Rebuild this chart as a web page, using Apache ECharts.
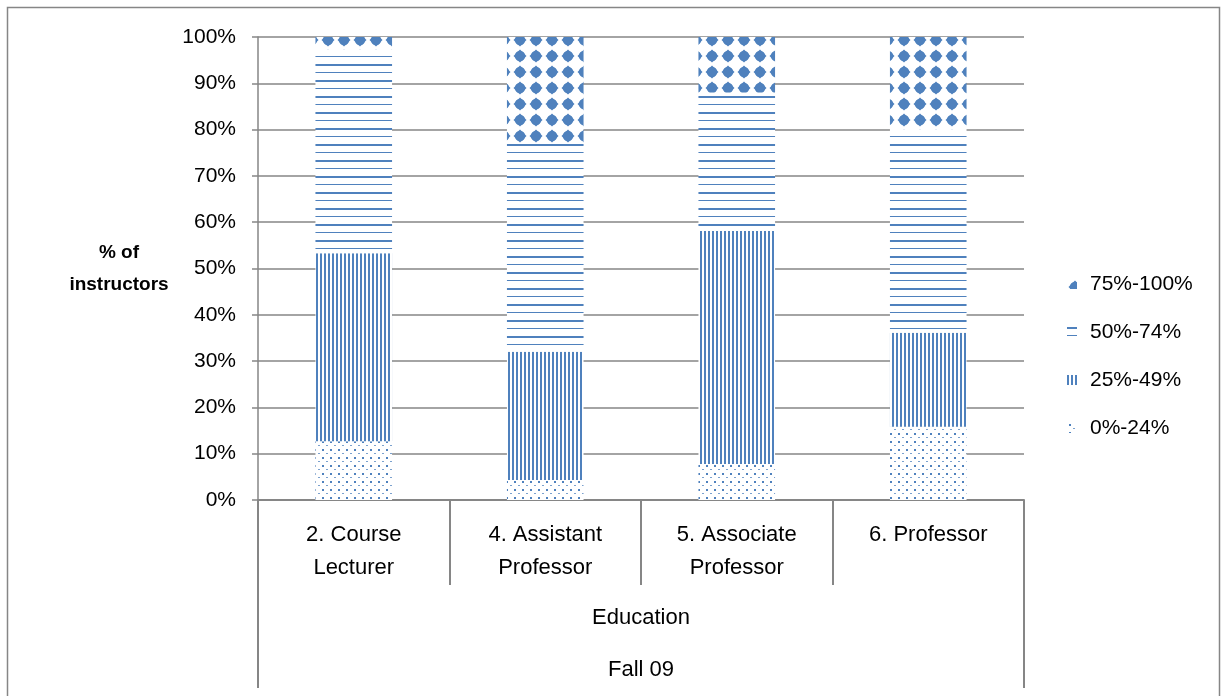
<!DOCTYPE html>
<html>
<head>
<meta charset="utf-8">
<script src="https://cdn.jsdelivr.net/npm/echarts@6/dist/echarts.min.js"></script>
<style>
html,body{margin:0;padding:0;background:#fff;}
#chart{width:1223px;height:696px;}
</style>
</head>
<body>
<div id="chart"></div>
<script>
// ---- Data ----
const categories = ['2. Course\nLecturer', '4. Assistant\nProfessor', '5. Associate\nProfessor', '6. Professor'];
const groupLabel = ['Education'];
const termLabel = ['Fall 09'];
const seriesNames = ['0%-24%', '25%-49%', '50%-74%', '75%-100%'];
const v0_24 = [12.7, 4.3, 7.8, 15.8];
const v25_49 = [40.6, 27.7, 50.3, 20.3];
const v50_74 = [43.9, 45.1, 29.9, 43.8];
const v75_100 = [2.8, 22.9, 12.0, 20.1];
const yTicks = [0, 10, 20, 30, 40, 50, 60, 70, 80, 90, 100];

// ---- Styles ----
const BLUE = '#4F81BD';
const GRAY = '#868686';
const FONT = 'Liberation Sans';

function makePattern(w, h, draw) {
  const c = document.createElement('canvas');
  c.width = w; c.height = h;
  const ctx = c.getContext('2d');
  ctx.fillStyle = '#ffffff';
  ctx.fillRect(0, 0, w, h);
  ctx.fillStyle = BLUE;
  draw(ctx);
  return { image: c, repeat: 'repeat' };
}

const patDots = makePattern(8, 8, ctx => {
  ctx.fillRect(2, 1, 2, 2);
  ctx.globalAlpha = 0.75;
  ctx.fillRect(6, 5, 2, 1);
});
const patVert = makePattern(4, 4, ctx => {
  ctx.fillRect(0, 0, 2, 4);
});
const patHorz = makePattern(8, 16, ctx => {
  ctx.fillRect(0, 0, 8, 2);
  ctx.fillRect(0, 8, 8, 1);
});
const patDiamond = makePattern(16, 16, ctx => {
  ctx.beginPath();
  ctx.arc(8, 8, 5.2, 0, Math.PI * 2);
  ctx.fill();
  ctx.beginPath();
  ctx.moveTo(8, 1.5); ctx.lineTo(14.5, 8); ctx.lineTo(8, 14.5); ctx.lineTo(1.5, 8);
  ctx.closePath();
  ctx.fill();
});

const patterns = [patDots, patVert, patHorz, patDiamond];
const values = [v0_24, v25_49, v50_74, v75_100];

const chart = echarts.init(document.getElementById('chart'), null, { renderer: 'canvas' });

const option = {
  animation: false,
  backgroundColor: '#ffffff',
  textStyle: { fontFamily: FONT },
  grid: { left: 258, right: 199, top: 37, bottom: 196, containLabel: false, outerBoundsMode: 'none' },
  legend: {
    orient: 'vertical',
    left: 1062,
    top: 267,
    itemWidth: 10,
    itemHeight: 10,
    itemGap: 24,
    icon: 'rect',
    data: seriesNames.slice().reverse(),
    textStyle: { fontFamily: FONT, fontSize: 21, color: '#000', lineHeight: 24, padding: [0, 0, 0, 8] }
  },
  xAxis: [
    {
      type: 'category',
      data: categories,
      position: 'bottom',
      axisLine: { show: true, lineStyle: { color: GRAY, width: 2 } },
      axisTick: { show: true, interval: 0, length: 85, lineStyle: { color: GRAY, width: 2 } },
      axisLabel: { interval: 0, margin: 18, fontSize: 22, lineHeight: 33, color: '#000', fontFamily: FONT },
      splitLine: { show: false }
    },
    {
      type: 'category',
      data: groupLabel,
      position: 'bottom',
      axisLine: { show: false },
      axisTick: { show: true, interval: 0, length: 188, lineStyle: { color: GRAY, width: 2 } },
      axisLabel: { interval: 0, margin: 105, fontSize: 22, lineHeight: 26, color: '#000', fontFamily: FONT },
      splitLine: { show: false }
    },
    {
      type: 'category',
      data: termLabel,
      position: 'bottom',
      axisLine: { show: false },
      axisTick: { show: false },
      axisLabel: { interval: 0, margin: 157, fontSize: 22, lineHeight: 26, color: '#000', fontFamily: FONT },
      splitLine: { show: false }
    }
  ],
  yAxis: {
    type: 'value',
    min: yTicks[0],
    max: yTicks[yTicks.length - 1],
    interval: 10,
    name: '% of\ninstructors',
    nameLocation: 'middle',
    nameRotate: 0,
    nameGap: 139,
    nameTextStyle: { fontFamily: FONT, fontSize: 19, fontWeight: 'bold', color: '#000', align: 'center', verticalAlign: 'middle', lineHeight: 32, padding: [8, 0, 0, 0] },
    axisLine: { show: true, lineStyle: { color: GRAY, width: 1.5 } },
    axisTick: { show: true, length: 6, lineStyle: { color: GRAY, width: 1.5 } },
    axisLabel: { formatter: '{value}%', margin: 22, fontSize: 21, color: '#000', fontFamily: FONT },
    splitLine: { show: true, lineStyle: { color: GRAY, width: 1.5 } }
  },
  series: seriesNames.map((name, i) => ({
    name: name,
    type: 'bar',
    stack: 'total',
    xAxisIndex: 0,
    barWidth: '40%',
    data: values[i],
    itemStyle: { color: patterns[i] },
    emphasis: { disabled: true }
  })),
  graphic: [
    {
      type: 'rect',
      shape: { x: 7.5, y: 7.5, width: 1212, height: 720 },
      style: { fill: 'none', stroke: GRAY, lineWidth: 1.5 },
      silent: true,
      z: -1
    }
  ]
};

chart.setOption(option);
</script>
</body>
</html>
